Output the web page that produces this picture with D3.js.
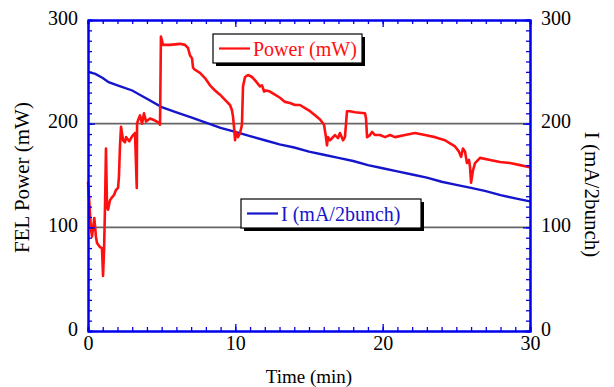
<!DOCTYPE html>
<html lang="en">
<head>
<meta charset="UTF-8">
<title>FEL Power and Current</title>
<script src="https://cdn.jsdelivr.net/npm/d3@7"></script>
<style>
  body { margin: 0; background: #fff; }
  text { font-family: "Liberation Serif", "Times New Roman", serif; }
</style>
</head>
<body>
<div id="chart"></div>
<script>
// time axis (min) for the FEL power trace
const powerTime = [0, 0.07, 0.14, 0.2, 0.27, 0.43, 0.54, 0.61, 0.81, 0.95, 1.02, 1.09, 1.15, 1.22, 1.29, 1.36,
  1.49, 1.63, 1.76, 1.9, 2.04, 2.1, 2.17, 2.24, 2.38, 2.51, 2.58, 2.8, 3.0, 3.19, 3.31, 3.33, 3.39, 3.53, 3.67,
  3.8, 3.94, 4.21, 4.55, 4.8, 4.89, 4.95, 5.09, 5.57, 6.24, 6.58, 6.79, 6.92, 7.06, 7.13, 7.26, 7.6, 7.94,
  8.28, 8.62, 8.96, 9.3, 9.64, 9.77, 9.84, 9.91, 9.98, 10.05, 10.18, 10.32, 10.45, 10.52, 10.66, 10.86,
  11.13, 11.33, 11.67, 11.81, 11.95, 12.08, 12.35, 12.69, 13.03, 13.37, 13.71, 14.05, 14.39, 14.73, 15.07,
  15.41, 15.75, 16.02, 16.15, 16.22, 16.29, 16.43, 16.76, 16.97, 17.1, 17.31, 17.44, 17.58, 17.78, 18.12,
  18.8, 18.87, 18.94, 19.14, 19.28, 19.48, 19.82, 20.16, 20.5, 20.84, 21.52, 22.19, 22.87, 23.55, 24.23,
  24.57, 24.91, 25.18, 25.32, 25.45, 25.59, 25.72, 25.86, 25.93, 26.0, 26.13, 26.27, 26.61, 27.29, 27.96,
  28.64, 29.32, 30];
// FEL power (mW)
const powerValues = [144, 129, 112, 99, 91, 109, 91, 85, 81, 80, 53, 78, 117, 176, 120, 117,
  126, 129, 131, 136, 138, 149, 178, 197, 184, 182, 187, 183, 188, 191, 138, 200, 203, 208, 200,
  210, 202, 205, 203, 201, 199, 284, 276, 276, 277, 276, 273, 266, 263, 254, 252, 249, 244,
  237, 232, 228, 223, 218, 213, 207, 197, 184, 192, 187, 191, 199, 236, 245, 247,
  245, 242, 236, 237, 231, 232, 231, 228, 225, 221, 220, 218, 218, 215, 212,
  208, 204, 199, 187, 179, 187, 184, 189, 186, 191, 184, 187, 212, 212, 211,
  210, 205, 187, 189, 192, 189, 189, 187, 189, 187, 189, 191, 189, 187, 184,
  181, 178, 173, 168, 176, 173, 162, 165, 158, 143, 155, 162, 167, 165, 163, 162,
  160, 158, 154];

// time axis (min) and stored current (mA/2bunch)
const currentTime = [0, 0.5, 1, 1.4, 2, 3, 4, 5, 6, 7, 8, 9, 10, 11, 12, 13, 14, 15, 16, 17, 18,
  19, 20, 21, 22, 23, 24, 25, 26, 27, 28, 29, 30];
const currentValues = [250, 248, 244, 240, 237, 232, 224, 216, 211, 206, 201, 196, 192, 188, 184, 180,
  177, 173, 170, 167, 164, 160, 157, 154, 151, 148, 144, 141, 138, 135, 131, 128, 125];

const xTicks = [0, 10, 20, 30];
const yTicks = [0, 100, 200, 300];
const gridValues = [100, 200];

const W = 614, H = 387;
const margin = { left: 88, right: 530, top: 20, bottom: 331 };
const axisBlue = "#0000ee";
const powerRed = "#ff1010";
const currentBlue = "#1515cc";

const svg = d3.select("#chart").append("svg")
  .attr("width", W).attr("height", H);

const x = d3.scaleLinear().domain([0, 30]).range([margin.left, margin.right]);
const y = d3.scaleLinear().domain([0, 300]).range([margin.bottom, margin.top]);
const y2 = d3.scaleLinear().domain([0, 300]).range([margin.bottom, margin.top]);

// grid lines at 100 and 200
svg.append("g").selectAll("line")
  .data(gridValues).enter().append("line")
  .attr("x1", margin.left).attr("x2", margin.right)
  .attr("y1", d => y(d)).attr("y2", d => y(d))
  .attr("stroke", "#666").attr("stroke-width", 1.6);

// current line
const currentLine = d3.line().x((d, i) => x(currentTime[i])).y(d => y2(d));
svg.append("path")
  .datum(currentValues)
  .attr("d", currentLine)
  .attr("fill", "none")
  .attr("stroke", currentBlue)
  .attr("stroke-width", 2.4);

// power line
const powerLine = d3.line().x((d, i) => x(powerTime[i])).y(d => y(d));
svg.append("path")
  .datum(powerValues)
  .attr("d", powerLine)
  .attr("fill", "none")
  .attr("stroke", powerRed)
  .attr("stroke-width", 2.6)
  .attr("stroke-linejoin", "round");

// axes: minor ticks then major ticks, all pointing inward
function styleAxis(g) {
  g.attr("font-family", null);
  g.selectAll("path.domain").attr("stroke", axisBlue).attr("stroke-width", 2);
  g.selectAll(".tick line").attr("stroke", axisBlue).attr("stroke-width", 1.3);
  g.selectAll("text").attr("fill", "#000").attr("font-size", "20px")
    .attr("font-family", "Liberation Serif, Times New Roman, serif");
}

const minorX = d3.range(0, 31, 1);
const minorY = d3.range(0, 301, 10);

// bottom
svg.append("g").attr("transform", `translate(0,${margin.bottom})`)
  .call(d3.axisBottom(x).tickValues(minorX).tickSize(-4).tickFormat(""))
  .call(styleAxis);
svg.append("g").attr("transform", `translate(0,${margin.bottom})`)
  .call(d3.axisBottom(x).tickValues(xTicks).tickSizeInner(-7).tickSizeOuter(0).tickPadding(5))
  .call(styleAxis);
// top
svg.append("g").attr("transform", `translate(0,${margin.top})`)
  .call(d3.axisTop(x).tickValues(minorX).tickSize(-4).tickFormat(""))
  .call(styleAxis);
svg.append("g").attr("transform", `translate(0,${margin.top})`)
  .call(d3.axisTop(x).tickValues(xTicks).tickSizeInner(-7).tickSizeOuter(0).tickFormat(""))
  .call(styleAxis);
// left
svg.append("g").attr("transform", `translate(${margin.left},0)`)
  .call(d3.axisLeft(y).tickValues(minorY).tickSize(-4).tickFormat(""))
  .call(styleAxis);
svg.append("g").attr("transform", `translate(${margin.left},0)`)
  .call(d3.axisLeft(y).tickValues(yTicks).tickSizeInner(-7).tickSizeOuter(0).tickPadding(10))
  .call(styleAxis)
  .call(g => g.selectAll("text").attr("dy", "0.2em"));
// right
svg.append("g").attr("transform", `translate(${margin.right},0)`)
  .call(d3.axisRight(y2).tickValues(minorY).tickSize(-4).tickFormat(""))
  .call(styleAxis);
svg.append("g").attr("transform", `translate(${margin.right},0)`)
  .call(d3.axisRight(y2).tickValues(yTicks).tickSizeInner(-7).tickSizeOuter(0).tickPadding(11))
  .call(styleAxis)
  .call(g => g.selectAll("text").attr("dy", "0.2em"));

// axis titles
svg.append("text")
  .attr("transform", `translate(29,${(margin.top + margin.bottom) / 2 + 2}) rotate(-90)`)
  .attr("text-anchor", "middle")
  .attr("font-size", "21px")
  .text("FEL Power (mW)");

svg.append("text")
  .attr("transform", `translate(585,${(margin.top + margin.bottom) / 2 + 19}) rotate(90)`)
  .attr("text-anchor", "middle")
  .attr("font-size", "21px")
  .text("I (mA/2bunch)");

svg.append("text")
  .attr("x", (margin.left + margin.right) / 2)
  .attr("y", 383)
  .attr("text-anchor", "middle")
  .attr("font-size", "19px")
  .text("Time (min)");

// legend boxes with drop shadow
function legendBox(bx, by, bw, bh, color, label) {
  const g = svg.append("g");
  g.append("rect").attr("x", bx + 3).attr("y", by + 3).attr("width", bw).attr("height", bh)
    .attr("fill", "#000");
  g.append("rect").attr("x", bx).attr("y", by).attr("width", bw).attr("height", bh)
    .attr("fill", "#fff").attr("stroke", "#000").attr("stroke-width", 1.2);
  g.append("line")
    .attr("x1", bx + 6).attr("x2", bx + 37)
    .attr("y1", by + bh / 2).attr("y2", by + bh / 2)
    .attr("stroke", color).attr("stroke-width", 2.2);
  g.append("text")
    .attr("x", bx + 40).attr("y", by + bh / 2 + 7)
    .attr("font-size", "20px")
    .attr("fill", color)
    .text(label);
}
legendBox(213, 34, 149, 29, powerRed, "Power (mW)");
legendBox(241, 199, 180, 29, currentBlue, "I (mA/2bunch)");
</script>
</body>
</html>
